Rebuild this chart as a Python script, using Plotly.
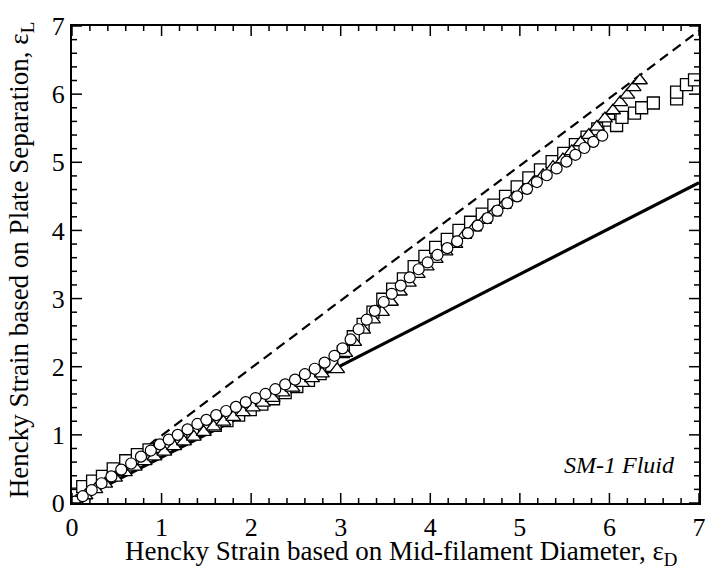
import plotly.graph_objects as go

# Squares series
sq_x = [0.04, 0.12, 0.23, 0.34, 0.46, 0.60, 0.73, 0.86, 0.98, 1.10, 1.22, 1.35, 1.48, 1.60, 1.73,
        1.86, 1.99, 2.12, 2.25, 2.38, 2.51, 2.64, 2.77, 2.90, 3.03, 3.14, 3.25, 3.36, 3.47, 3.58,
        3.70, 3.82, 3.94, 4.06, 4.19, 4.32, 4.45, 4.58, 4.71, 4.84, 4.97, 5.10, 5.23, 5.36, 5.49,
        5.62, 5.75, 5.87, 5.99, 6.08, 6.14, 6.28, 6.36, 6.49, 6.75, 6.75, 6.86, 6.95]
sq_y = [0.13, 0.24, 0.32, 0.39, 0.50, 0.62, 0.71, 0.78, 0.83, 0.88, 0.94, 1.01, 1.08, 1.14, 1.21,
        1.29, 1.37, 1.45, 1.53, 1.62, 1.71, 1.80, 1.90, 2.02, 2.22, 2.44, 2.62, 2.80, 2.99, 3.14,
        3.29, 3.47, 3.62, 3.75, 3.87, 4.00, 4.12, 4.24, 4.37, 4.50, 4.64, 4.77, 4.89, 5.01, 5.13,
        5.26, 5.37, 5.49, 5.62, 5.54, 5.66, 5.72, 5.80, 5.87, 5.93, 6.03, 6.14, 6.21]

# Triangles series
tr_x = [0.05, 0.15, 0.26, 0.37, 0.48, 0.59, 0.70, 0.81, 0.92, 1.03, 1.14, 1.25, 1.36, 1.47, 1.58,
        1.69, 1.80, 1.91, 2.02, 2.13, 2.24, 2.35, 2.46, 2.57, 2.68, 2.79, 2.96, 3.05, 3.15, 3.25,
        3.36, 3.46, 3.56, 3.66, 3.76, 3.86, 3.96, 4.06, 4.17, 4.28, 4.38, 4.49, 4.60, 4.71, 4.82,
        4.93, 5.04, 5.15, 5.26, 5.37, 5.48, 5.58, 5.68, 5.77, 5.86, 5.95, 6.04, 6.12, 6.20, 6.27, 6.34]
tr_y = [0.03, 0.11, 0.20, 0.28, 0.37, 0.45, 0.53, 0.61, 0.68, 0.75, 0.83, 0.90, 0.97, 1.04, 1.12,
        1.19, 1.26, 1.33, 1.40, 1.47, 1.54, 1.62, 1.69, 1.76, 1.83, 1.90, 1.96, 2.20, 2.36, 2.54,
        2.69, 2.80, 2.95, 3.10, 3.23, 3.36, 3.47, 3.58, 3.69, 3.80, 3.93, 4.04, 4.15, 4.26, 4.37,
        4.48, 4.59, 4.70, 4.81, 4.93, 5.04, 5.16, 5.29, 5.40, 5.52, 5.64, 5.76, 5.88, 5.99, 6.10, 6.20]

# Circles series
ci_x = [0.03, 0.12, 0.22, 0.33, 0.44, 0.55, 0.66, 0.77, 0.88, 0.98, 1.08, 1.18, 1.29, 1.40, 1.50,
        1.61, 1.72, 1.83, 1.94, 2.05, 2.16, 2.27, 2.38, 2.49, 2.60, 2.71, 2.82, 2.93, 3.02, 3.11,
        3.20, 3.29, 3.38, 3.48, 3.57, 3.67, 3.77, 3.87, 3.97, 4.08, 4.19, 4.30, 4.42, 4.53, 4.64,
        4.75, 4.86, 4.97, 5.08, 5.19, 5.30, 5.41, 5.52, 5.62, 5.72, 5.82, 5.92]
ci_y = [0.02, 0.10, 0.19, 0.29, 0.39, 0.49, 0.58, 0.68, 0.77, 0.86, 0.93, 1.00, 1.08, 1.16, 1.22,
        1.29, 1.35, 1.41, 1.48, 1.54, 1.60, 1.67, 1.74, 1.81, 1.89, 1.97, 2.06, 2.16, 2.27, 2.40,
        2.55, 2.69, 2.82, 2.95, 3.07, 3.19, 3.31, 3.43, 3.53, 3.64, 3.74, 3.84, 3.96, 4.07, 4.18,
        4.29, 4.40, 4.50, 4.61, 4.71, 4.81, 4.91, 5.01, 5.11, 5.21, 5.30, 5.39]

# Reference lines
solid_x = [0, 7]
solid_y = [0, 4.70]
dash_x = [0, 7]
dash_y = [0, 6.93]

# Tick positions (same on both axes)
major_ticks = [0, 1, 2, 3, 4, 5, 6, 7]
minor_ticks = [0.2, 0.4, 0.6, 0.8, 1.2, 1.4, 1.6, 1.8, 2.2, 2.4, 2.6, 2.8, 3.2, 3.4, 3.6, 3.8,
               4.2, 4.4, 4.6, 4.8, 5.2, 5.4, 5.6, 5.8, 6.2, 6.4, 6.6, 6.8]

x_title = "Hencky Strain based on Mid-filament Diameter, ε<sub>D</sub>"
y_title = "Hencky Strain based on Plate Separation, ε<sub>L</sub>"
note = "<i>SM-1 Fluid</i>"

serif = "Liberation Serif, Times New Roman, serif"

fig = go.Figure()
fig.add_trace(go.Scatter(x=solid_x, y=solid_y, mode="lines",
                         line=dict(color="black", width=3.2), showlegend=False))
fig.add_trace(go.Scatter(x=dash_x, y=dash_y, mode="lines",
                         line=dict(color="black", width=2.2, dash="10px,6px"), showlegend=False))
fig.add_trace(go.Scatter(x=sq_x, y=sq_y, mode="markers",
                         marker=dict(symbol="square", size=12, color="white",
                                     line=dict(color="black", width=1.3)), showlegend=False))
fig.add_trace(go.Scatter(x=tr_x, y=tr_y, mode="markers",
                         marker=dict(symbol="triangle-up", size=13, color="white",
                                     line=dict(color="black", width=1.3)), showlegend=False))
fig.add_trace(go.Scatter(x=ci_x, y=ci_y, mode="markers",
                         marker=dict(symbol="circle", size=11, color="white",
                                     line=dict(color="black", width=1.2)), showlegend=False))

main_axis = dict(
    range=[0, 7], tickmode="array", tickvals=major_ticks,
    showgrid=False, zeroline=False,
    showline=True, linecolor="black", linewidth=2, mirror=True,
    ticks="", ticklabeloverflow="allow",
    tickfont=dict(family=serif, size=26, color="black"),
)

fig.update_layout(
    xaxis=main_axis,
    yaxis=main_axis,
    width=718, height=574, margin=dict(l=72, r=13, t=15, b=71),
    plot_bgcolor="white", paper_bgcolor="white",
)

# Inward tick marks on all four sides, placed on the axes' own scales
tick_line = dict(color="black", width=1.5)
for ticks, length in ((major_ticks, 10), (minor_ticks, 5)):
    for v in ticks:
        # bottom and top edges (x scale)
        fig.add_shape(type="line", xref="x", yref="paper", ysizemode="pixel", yanchor=0,
                      x0=v, x1=v, y0=0, y1=length, line=tick_line, layer="above")
        fig.add_shape(type="line", xref="x", yref="paper", ysizemode="pixel", yanchor=1,
                      x0=v, x1=v, y0=0, y1=-length, line=tick_line, layer="above")
        # left and right edges (y scale)
        fig.add_shape(type="line", xref="paper", yref="y", xsizemode="pixel", xanchor=0,
                      x0=0, x1=length, y0=v, y1=v, line=tick_line, layer="above")
        fig.add_shape(type="line", xref="paper", yref="y", xsizemode="pixel", xanchor=1,
                      x0=0, x1=-length, y0=v, y1=v, line=tick_line, layer="above")

fig.add_annotation(x=0.526, y=-0.066, xref="paper", yref="paper", xanchor="center", yanchor="top",
                   text=x_title, showarrow=False,
                   font=dict(family=serif, size=27, color="black"))
fig.add_annotation(x=-0.082, y=0.51, xref="paper", yref="paper", xanchor="center", yanchor="middle",
                   text=y_title, showarrow=False, textangle=-90,
                   font=dict(family=serif, size=27, color="black"))
fig.add_annotation(x=0.965, y=0.08, xref="paper", yref="paper", xanchor="right", yanchor="middle",
                   text=note, showarrow=False,
                   font=dict(family=serif, size=24, color="black"))

fig.write_html("out.html")
